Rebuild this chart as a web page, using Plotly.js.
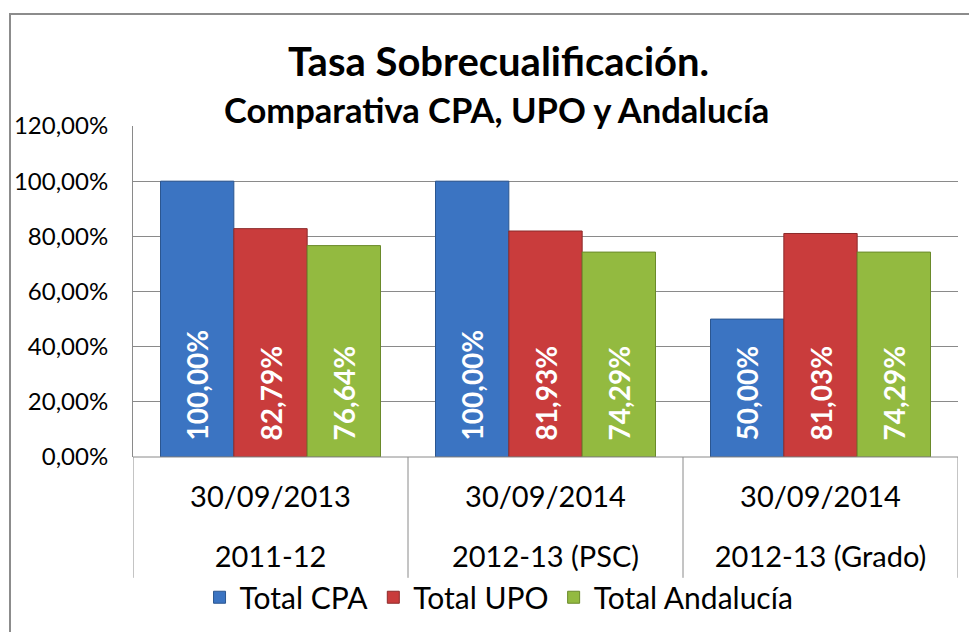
<!DOCTYPE html>
<html><head><meta charset="utf-8">
<script src="https://cdn.plot.ly/plotly-3.0.1.min.js"></script>
<style>
html,body{margin:0;padding:0;background:#fff;}
#wrap{position:relative;width:969px;height:632px;overflow:hidden;}
#chart{position:absolute;left:0;top:0;width:969px;height:632px;}
#frame{position:absolute;left:9px;top:13px;width:1000px;height:700px;border-left:2px solid #8c8c8c;border-top:2px solid #8c8c8c;pointer-events:none;}
</style></head>
<body><div id="wrap"><div id="chart"></div><div id="frame"></div></div>
<script>
const dates = ["30/09/2013", "30/09/2014", "30/09/2014"];
const periods = ["2011-12", "2012-13 (PSC)", "2012-13 (Grado)"];
const seriesNames = ["Total CPA", "Total UPO", "Total Andalucía"];
const totalCPA = [1.0, 1.0, 0.5];
const totalUPO = [0.8279, 0.8193, 0.8103];
const totalAndalucia = [0.7664, 0.7429, 0.7429];
const yTicks = [0, 0.2, 0.4, 0.6, 0.8, 1.0, 1.2];
const titleText = "Tasa Sobrecualificación.";
const subtitleText = "Comparativa CPA, UPO y Andalucía";

const fillColors = ["#3b74c2", "#c93c3c", "#93ba40"];
const lineColors = ["#2b5690", "#8c2a2a", "#6a8a2a"];
const seriesValues = [totalCPA, totalUPO, totalAndalucia];
const catIdx = dates.map((d, i) => i);
const FONT = "Lato, 'Open Sans', sans-serif";

const traces = seriesValues.map((vals, k) => ({
  type: "bar",
  name: seriesNames[k],
  x: catIdx,
  y: vals,
  marker: {color: fillColors[k], line: {color: lineColors[k], width: 1}},
  texttemplate: "\u00a0\u00a0%{y:.2%}",
  textposition: "inside",
  insidetextanchor: "start",
  textangle: -90,
  textfont: {family: FONT, size: 28, color: "#ffffff", weight: "bold"},
  constraintext: "none",
  hoverinfo: "skip"
}));
// helper trace so the second (period) category axis is drawn
traces.push({
  type: "scatter", mode: "markers", x: catIdx, y: catIdx.map(() => null),
  xaxis: "x2", yaxis: "y", showlegend: false, hoverinfo: "skip"
});

const layout = {
  width: 969, height: 632,
  separators: ",.",
  paper_bgcolor: "rgba(0,0,0,0)",
  plot_bgcolor: "rgba(0,0,0,0)",
  margin: {l: 133, r: 11, t: 126, b: 175},
  barmode: "group",
  bargap: 0.2,
  bargroupgap: 0,
  font: {family: FONT, color: "#000"},
  title: {
    text: titleText,
    font: {family: FONT, size: 40, weight: "bold", color: "#000"},
    xref: "container", x: 0.5145, xanchor: "center",
    yref: "container", y: 0.902, yanchor: "middle"
  },
  annotations: [{
    text: subtitleText, showarrow: false,
    xref: "paper", yref: "paper", x: 0.44, y: 1.05,
    xanchor: "center", yanchor: "middle",
    font: {family: FONT, size: 34.5, weight: "bold", color: "#000"}
  }],
  xaxis: {
    type: "linear",
    range: [-0.5, 2.5],
    tickmode: "array",
    tickvals: catIdx,
    ticktext: dates,
    ticks: "",
    showgrid: false,
    zeroline: false,
    showline: false,
    tickfont: {family: FONT, size: 29, color: "#000"},
    ticklabelstandoff: 20
  },
  xaxis2: {
    type: "linear",
    overlaying: "x",
    anchor: "y",
    side: "bottom",
    range: [-0.5, 2.5],
    tickmode: "array",
    tickvals: catIdx,
    ticktext: periods,
    ticks: "",
    showgrid: false,
    zeroline: false,
    showline: false,
    tickfont: {family: FONT, size: 29, color: "#000"},
    ticklabelstandoff: 80
  },
  yaxis: {
    range: [0, 1.2],
    tickmode: "array",
    tickvals: yTicks,
    tickformat: ".2%",
    showgrid: true,
    gridcolor: "#8a8a8a",
    gridwidth: 1,
    zeroline: false,
    showline: true,
    linecolor: "#8a8a8a",
    linewidth: 1,
    ticks: "",
    tickfont: {family: FONT, size: 24, color: "#000"},
    ticklabelstandoff: 19
  },
  shapes: [-0.5, 0.5, 1.5, 2.5].map(v => ({
    type: "line", xref: "x", yref: "paper", x0: v, x1: v, y0: 0, y1: -0.365,
    line: {color: "#8a8a8a", width: 1}
  })).concat([{
    type: "line", xref: "paper", yref: "paper", x0: 0, x1: 1, y0: 0, y1: 0,
    line: {color: "#8a8a8a", width: 1}
  }]),
  legend: {
    orientation: "h",
    xref: "container", yref: "container",
    x: 0.515, xanchor: "center",
    y: 0.055, yanchor: "middle",
    font: {family: FONT, size: 30, color: "#000"},
    itemwidth: 30,
    traceorder: "normal"
  },
  showlegend: true
};

Plotly.newPlot("chart", traces, layout, {staticPlot: true});
</script></body></html>
